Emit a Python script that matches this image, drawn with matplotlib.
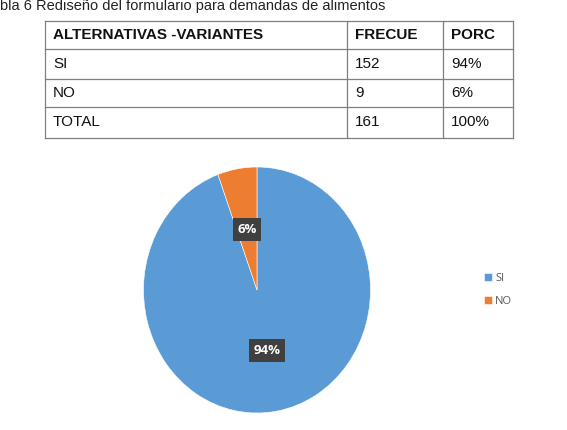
import matplotlib.pyplot as plt

caption = "bla 6 Rediseño del formulario para demandas de alimentos"
headers = ["ALTERNATIVAS -VARIANTES", "FRECUE", "PORC"]
categories = ["SI", "NO"]
freq = [152, 9]
porc = ["94%", "6%"]
total_freq = 161
total_porc = "100%"

colors = ["#5B9BD5", "#ED7D31"]

W, H = 567, 430
fig = plt.figure(figsize=(W / 100, H / 100), dpi=100)

# layer in pixel coords for caption + table
tab = fig.add_axes([0, 0, 1, 1])
tab.set_xlim(0, W)
tab.set_ylim(H, 0)
tab.axis("off")

tab.text(0, 10, caption, fontsize=10.5, family="Liberation Sans", va="baseline", color="#222222")

col_x = [45, 347, 443, 513]
row_y = [21, 49, 79, 107, 138]
rows = [headers] + [[c, str(f), p] for c, f, p in zip(categories, freq, porc)] + [["TOTAL", str(total_freq), total_porc]]

for y in row_y:
    tab.plot([col_x[0], col_x[-1]], [y, y], color="#7f7f7f", lw=0.9)
for x in col_x:
    tab.plot([x, x], [row_y[0], row_y[-1]], color="#7f7f7f", lw=0.9)

for i, row in enumerate(rows):
    yc = (row_y[i] + row_y[i + 1]) / 2
    for j, val in enumerate(row):
        tab.text(col_x[j] + 8, yc, val, fontsize=11, family="Liberation Sans",
                 fontweight="bold" if i == 0 else "normal", va="center", ha="left", color="#111111")

# pie
cx, cy, rx, ry = 257, 290, 113.5, 123
ax = fig.add_axes([(cx - rx) / W, (H - cy - ry) / H, 2 * rx / W, 2 * ry / H])
wedges, texts, autotexts = ax.pie(freq, colors=colors, startangle=90, counterclock=False,
                                  autopct="%.0f%%", pctdistance=0.5,
                                  wedgeprops=dict(edgecolor="white", linewidth=0.4),
                                  textprops=dict(color="white", fontsize=9.5, fontweight="bold", family="Open Sans"))
ax.set_aspect("auto")
ax.set_xlim(-1, 1)
ax.set_ylim(-1, 1)
for t in autotexts:
    t.set_bbox(dict(facecolor="#404040", edgecolor="none", boxstyle="square,pad=0.35"))

leg = fig.legend(wedges, categories, loc="center left", bbox_to_anchor=(474 / W, 1 - 290 / H),
                 frameon=False, handlelength=0.7, handleheight=0.7,
                 handletextpad=0.3, labelspacing=1.1, prop=dict(family="Open Sans", size=8))
for t in leg.get_texts():
    t.set_color("#595959")

fig.savefig("out.png", dpi=100)
